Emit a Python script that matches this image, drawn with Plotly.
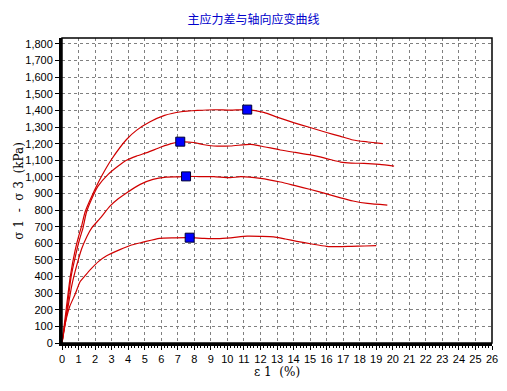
import plotly.graph_objects as go

# Curve 1 (top)
x1 = [0, 0.25, 0.5, 0.8, 1.0, 1.2, 1.4, 1.8, 2.4, 3.0, 3.9, 4.5, 5.3, 6.2, 7.2, 8.2, 9.2, 10.2, 11.2,
      12.2, 13.0, 14.0, 15.0, 16.0, 16.8, 17.6, 18.5, 19.4]
y1 = [0, 200, 400, 560, 640, 710, 790, 884, 1005, 1106, 1225, 1280, 1330, 1370, 1392, 1400, 1404, 1402, 1405,
      1388, 1360, 1327, 1297, 1267, 1245, 1222, 1210, 1200]

# Curve 2
x2 = [0, 0.3, 0.55, 0.85, 1.05, 1.27, 1.47, 1.78, 2.18, 2.79, 3.4, 3.9, 4.5, 5.13, 6.0, 6.6, 7.15, 7.96, 8.5,
      9.17, 10.18, 11.39, 12.0, 13.2, 14.1, 15.03, 16.0, 16.85, 17.5, 18.26, 19.2, 20.08]
y2 = [0, 200, 400, 540, 620, 693, 784, 864, 944, 1015, 1065, 1100, 1125, 1146, 1180, 1200, 1210, 1207, 1195,
      1186, 1186, 1196, 1186, 1162, 1147, 1132, 1110, 1089, 1083, 1081, 1075, 1065]

# Curve 3
x3 = [0, 0.3, 0.6, 0.9, 1.2, 1.5, 1.8, 2.3, 2.9, 3.4, 3.92, 4.73, 5.5, 6.3, 7.0, 7.5, 8.3, 9.17, 10.18, 10.8,
      12.0, 13.2, 14.1, 15.03, 16.0, 16.85, 17.6, 18.47, 19.67]
y3 = [0, 180, 350, 470, 570, 640, 693, 750, 824, 868, 905, 955, 985, 998, 1000, 1003, 1002, 1001, 995, 1001,
      991, 969, 947, 924, 898, 874, 855, 840, 830]

# Curve 4 (bottom)
x4 = [0, 0.1, 0.45, 0.8, 1.1, 1.4, 1.7, 2.2, 2.7, 3.5, 4.2, 4.9, 5.9, 6.8, 7.7, 8.6, 9.4, 10.2, 11.2, 12.0,
      12.8, 13.5, 14.2, 15.1, 16.0, 16.8, 17.5, 18.3, 19.0]
y4 = [0, 70, 215, 295, 370, 405, 440, 490, 525, 562, 590, 607, 630, 633, 634, 630, 628, 633, 643, 642,
      639, 626, 612, 596, 582, 580, 582, 584, 586]

# Peak markers
peak_x = [11.2, 7.15, 7.5, 7.72]
peak_y = [1405, 1212, 1003, 634]

title_text = "主应力差与轴向应变曲线"
x_title = "ε 1  (%)"
y_title = "σ 1  -  σ 3  (kPa)"

fig = go.Figure()
for xs, ys in [(x1, y1), (x2, y2), (x3, y3), (x4, y4)]:
    fig.add_trace(go.Scatter(x=xs, y=ys, mode="lines",
                             line=dict(color="#d00000", width=1.2, shape="spline", smoothing=0.6),
                             hoverinfo="skip", showlegend=False))
fig.add_trace(go.Scatter(x=peak_x, y=peak_y, mode="markers",
                         marker=dict(symbol="square", size=9, color="#0000ff",
                                     line=dict(color="#000033", width=1)),
                         showlegend=False))

font_main = "Liberation Sans, Arial, sans-serif"
title_font = dict(family="DejaVu Serif", size=12, color="black")

fig.update_layout(
    width=507, height=391,
    margin=dict(l=62, r=15, t=38, b=48, autoexpand=False),
    paper_bgcolor="white", plot_bgcolor="white",
    title=dict(text=title_text, x=0.5, xanchor="center", y=0.95, yanchor="middle",
               font=dict(family="Noto Sans CJK SC", size=12, color="#0000cc")),
    font=dict(family=font_main, size=11, color="black"),
    xaxis=dict(range=[0, 26], dtick=1, tick0=0, showgrid=True, automargin=False,
               gridcolor="#808080", griddash="3px,3px", gridwidth=1,
               ticks="outside", ticklen=4, tickcolor="black",
               minor=dict(dtick=0.2, ticks="outside", ticklen=2, tickcolor="black", showgrid=False),
               showline=True, linecolor="black", linewidth=3, zeroline=False,
               tickfont=dict(size=11)),
    yaxis=dict(range=[0, 1836], dtick=100, tick0=0, tickformat=",d", showgrid=True, automargin=False,
               gridcolor="#808080", griddash="3px,3px", gridwidth=1,
               ticks="outside", ticklen=4, tickcolor="black",
               showline=True, linecolor="black", linewidth=3, zeroline=False,
               tickfont=dict(size=11)),
    shapes=[dict(type="rect", xref="paper", yref="paper", x0=0, y0=0, x1=1, y1=1,
                 line=dict(color="black", width=1.5), layer="above")],
    annotations=[
        dict(text=x_title, xref="paper", yref="paper", x=0.5, y=-0.095,
             xanchor="center", yanchor="middle", showarrow=False, font=title_font),
        dict(text=y_title, xref="paper", yref="paper", x=-0.102, y=0.5, textangle=-90,
             xanchor="center", yanchor="middle", showarrow=False, font=title_font),
    ],
)

fig.write_html("out.html", config={"displayModeBar": False},
               post_script="document.body.style.margin='0';document.body.style.overflow='hidden';")
